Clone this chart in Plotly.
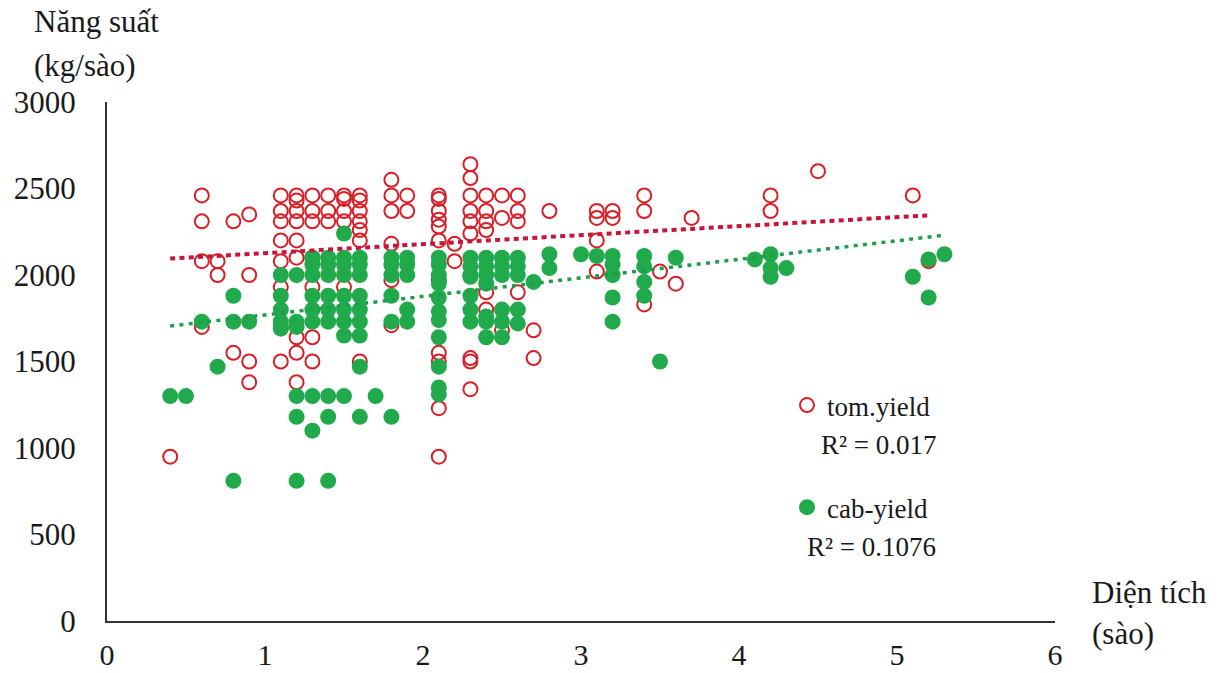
import plotly.graph_objects as go

# ---------------- data ----------------
tom_x = [0.4,
         0.6, 0.6, 0.6, 0.6,
         0.7, 0.7,
         0.8, 0.8,
         0.9, 0.9, 0.9, 0.9,
         1.1, 1.1, 1.1, 1.1, 1.1, 1.1, 1.1, 1.1,
         1.2, 1.2, 1.2, 1.2, 1.2, 1.2, 1.2, 1.2, 1.2,
         1.3, 1.3, 1.3, 1.3, 1.3, 1.3, 1.3,
         1.4, 1.4, 1.4,
         1.5, 1.5, 1.5, 1.5, 1.5,
         1.6, 1.6, 1.6, 1.6, 1.6, 1.6, 1.6,
         1.8, 1.8, 1.8, 1.8, 1.8, 1.8,
         1.9, 1.9,
         2.1, 2.1, 2.1, 2.1, 2.1, 2.1, 2.1, 2.1, 2.1, 2.1, 2.1,
         2.2, 2.2,
         2.3, 2.3, 2.3, 2.3, 2.3, 2.3, 2.3, 2.3, 2.3,
         2.4, 2.4, 2.4, 2.4, 2.4, 2.4,
         2.5, 2.5, 2.5,
         2.6, 2.6, 2.6, 2.6,
         2.7, 2.7,
         2.8,
         3.1, 3.1, 3.1, 3.1,
         3.2, 3.2,
         3.4, 3.4, 3.4,
         3.5, 3.6, 3.7,
         4.2, 4.2,
         4.5, 5.1, 5.2]
tom_y = [950,
         2460, 2310, 2080, 1700,
         2080, 2000,
         2310, 1550,
         2350, 2000, 1500, 1380,
         2460, 2370, 2310, 2200, 2080, 1930, 1700, 1500,
         2460, 2430, 2370, 2310, 2200, 2100, 1640, 1550, 1380,
         2460, 2370, 2310, 2100, 1930, 1640, 1500,
         2460, 2370, 2310,
         2460, 2440, 2370, 2310, 1930,
         2460, 2430, 2370, 2310, 2260, 2200, 1500,
         2550, 2460, 2370, 2180, 1970, 1710,
         2460, 2370,
         2460, 2440, 2370, 2320, 2280, 2200, 1970, 1550, 1500, 1230, 950,
         2180, 2080,
         2640, 2560, 2460, 2370, 2310, 2240, 1520, 1500, 1340,
         2460, 2370, 2310, 2260, 1900, 1800,
         2460, 2330, 1680,
         2460, 2370, 2310, 1900,
         1680, 1520,
         2370,
         2370, 2330, 2200, 2020,
         2370, 2330,
         2460, 2370, 1830,
         2020, 1950, 2330,
         2460, 2370,
         2600, 2460, 2080]

cab_x = [0.4, 0.5, 0.6, 0.7,
         0.8, 0.8, 0.8,
         0.9,
         1.1, 1.1, 1.1, 1.1, 1.1,
         1.2, 1.2, 1.2, 1.2, 1.2, 1.2,
         1.3, 1.3, 1.3, 1.3, 1.3, 1.3, 1.3, 1.3,
         1.4, 1.4, 1.4, 1.4, 1.4, 1.4, 1.4, 1.4, 1.4,
         1.5, 1.5, 1.5, 1.5, 1.5, 1.5, 1.5, 1.5, 1.5,
         1.6, 1.6, 1.6, 1.6, 1.6, 1.6, 1.6, 1.6, 1.6,
         1.7,
         1.8, 1.8, 1.8, 1.8, 1.8, 1.8,
         1.9, 1.9, 1.9, 1.9, 1.9,
         2.1, 2.1, 2.1, 2.1, 2.1, 2.1, 2.1, 2.1, 2.1, 2.1, 2.1,
         2.3, 2.3, 2.3, 2.3, 2.3, 2.3, 2.3,
         2.4, 2.4, 2.4, 2.4, 2.4, 2.4, 2.4,
         2.5, 2.5, 2.5, 2.5, 2.5, 2.5,
         2.6, 2.6, 2.6, 2.6, 2.6,
         2.7,
         2.8, 2.8,
         3.0, 3.1,
         3.2, 3.2, 3.2, 3.2, 3.2,
         3.4, 3.4, 3.4, 3.4,
         3.5, 3.6,
         4.1,
         4.2, 4.2, 4.2,
         4.3,
         5.1,
         5.2, 5.2,
         5.3]
cab_y = [1300, 1300, 1730, 1470,
         1880, 1730, 810,
         1730,
         2000, 1880, 1800, 1730, 1690,
         2000, 1730, 1700, 1300, 1180, 810,
         2100, 2060, 2000, 1880, 1800, 1730, 1300, 1100,
         2100, 2060, 2000, 1880, 1800, 1730, 1300, 1180, 810,
         2240, 2100, 2060, 2000, 1880, 1800, 1730, 1650, 1300,
         2100, 2060, 2000, 1880, 1800, 1730, 1650, 1470, 1180,
         1300,
         2100, 2060, 2000, 1880, 1730, 1180,
         2100, 2060, 2000, 1800, 1730,
         2100, 2060, 2000, 1950, 1870, 1790, 1740, 1640, 1470, 1350, 1310,
         2100, 2050, 2000, 1990, 1880, 1800, 1730,
         2100, 2050, 2000, 1950, 1760, 1730, 1640,
         2100, 2050, 2000, 1800, 1730, 1640,
         2100, 2050, 2000, 1800, 1720,
         1960,
         2120, 2040,
         2120, 2110,
         2110, 2060, 2000, 1870, 1730,
         2110, 2050, 1960, 1880,
         1500, 2100,
         2090,
         2120, 2040, 1990,
         2040,
         1990,
         2090, 1870,
         2120]

# linear trend lines (end points)
tom_trend_x = [0.4, 5.2]
tom_trend_y = [2095, 2345]
cab_trend_x = [0.4, 5.3]
cab_trend_y = [1705, 2230]

tom_r2 = "R² = 0.017"
cab_r2 = "R² = 0.1076"

x_ticks = [0, 1, 2, 3, 4, 5, 6]
y_ticks = [0, 500, 1000, 1500, 2000, 2500, 3000]

# ---------------- figure ----------------
FONT = "Liberation Serif, Times New Roman, serif"
RED = "#d81e26"
GREEN = "#21aa4c"

# plot area in pixels
L, R, T, B = 107, 1055, 102, 621
PW, PH = R - L, B - T


def px(x):
    return (x - L) / PW


def py(y):
    return (B - y) / PH


fig = go.Figure()

fig.add_trace(go.Scatter(
    x=tom_x, y=tom_y, mode="markers", name="tom.yield", legendgroup="a",
    marker=dict(symbol="circle-open", size=14, color=RED, line=dict(width=2, color=RED)),
))
fig.add_trace(go.Scatter(
    x=cab_x, y=cab_y, mode="markers", name="cab-yield", legendgroup="b",
    marker=dict(symbol="circle", size=16, color=GREEN, line=dict(width=0)),
))
fig.add_trace(go.Scatter(
    x=tom_trend_x, y=tom_trend_y, mode="lines", showlegend=False,
    line=dict(color="#c8163a", width=4, dash="5px,4.3px"),
))
fig.add_trace(go.Scatter(
    x=cab_trend_x, y=cab_trend_y, mode="lines", showlegend=False,
    line=dict(color="#1e9e4a", width=3.5, dash="4px,5.3px"),
))

fig.update_layout(
    width=1223, height=673,
    margin=dict(l=L, r=1223 - R, t=T, b=673 - B, autoexpand=False),
    paper_bgcolor="white", plot_bgcolor="white",
    font=dict(family=FONT, size=31, color="#1a1a1a"),
    showlegend=True,
    legend=dict(
        x=px(787), y=py(381), xanchor="left", yanchor="top",
        font=dict(family=FONT, size=27, color="#1a1a1a"),
        tracegroupgap=64, bgcolor="rgba(0,0,0,0)", itemsizing="trace",
    ),
)

fig.update_xaxes(
    range=[0, 6], tickvals=x_ticks, ticktext=[str(v) for v in x_ticks],
    showline=True, linecolor="#333333", linewidth=2, showgrid=False, zeroline=False,
    ticks="outside", ticklen=6, tickcolor="rgba(0,0,0,0)", automargin=False,
    tickfont=dict(family=FONT, size=30, color="#1a1a1a"),
)
fig.update_yaxes(
    range=[0, 3000], tickvals=y_ticks, ticktext=[str(v) for v in y_ticks],
    showline=True, linecolor="#333333", linewidth=2, showgrid=False, zeroline=False,
    ticks="outside", ticklen=23, tickcolor="rgba(0,0,0,0)", automargin=False,
    tickfont=dict(family=FONT, size=31, color="#1a1a1a"),
)

ann_font = dict(family=FONT, size=31, color="#1a1a1a")
for txt, ax, ay in [("Năng suất", 32, 22), ("(kg/sào)", 32, 65),
                    ("Diện tích", 1090, 592), ("(sào)", 1090, 633)]:
    fig.add_annotation(text=txt, xref="paper", yref="paper", x=px(ax), y=py(ay),
                       xanchor="left", yanchor="middle", showarrow=False, font=ann_font)

r2_font = dict(family=FONT, size=27, color="#1a1a1a")
fig.add_annotation(text=tom_r2, xref="paper", yref="paper", x=px(879), y=py(445),
                   xanchor="center", yanchor="middle", showarrow=False, font=r2_font)
fig.add_annotation(text=cab_r2, xref="paper", yref="paper", x=px(871), y=py(547),
                   xanchor="center", yanchor="middle", showarrow=False, font=r2_font)

fig.write_html("out.html", config={"displayModeBar": False},
               post_script="document.body.style.margin='0';")
